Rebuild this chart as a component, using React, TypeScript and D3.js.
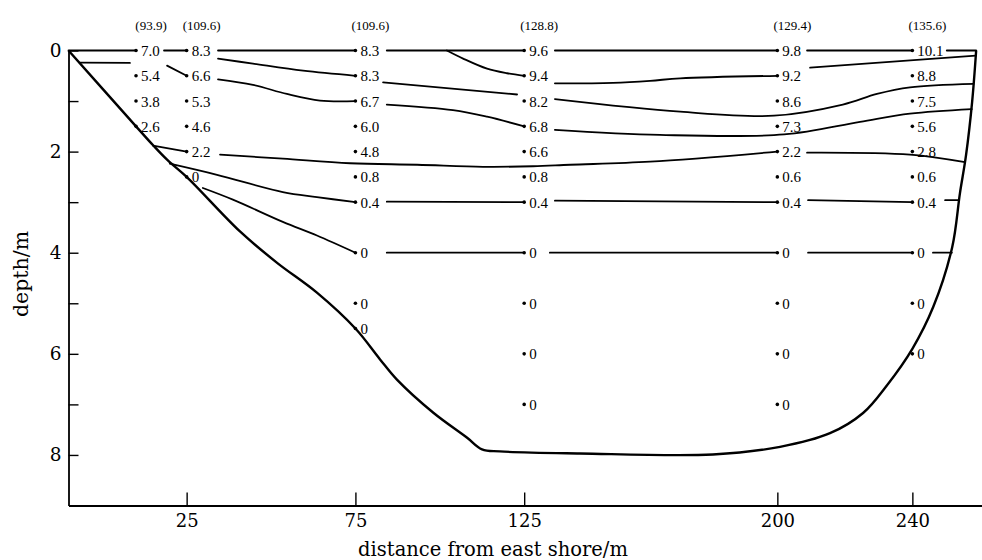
import React, { useEffect, useRef } from "react";
import * as d3 from "d3";

type Pt = [number, number];

// ---- data ----
const stationDistances = [10, 25, 75, 125, 200, 240];
const stationHeaders = ["(93.9)", "(109.6)", "(109.6)", "(128.8)", "(129.4)", "(135.6)"];
const stationDepths = [
  [0, 0.5, 1, 1.5],
  [0, 0.5, 1, 1.5, 2, 2.5],
  [0, 0.5, 1, 1.5, 2, 2.5, 3, 4, 5, 5.5],
  [0, 0.5, 1, 1.5, 2, 2.5, 3, 4, 5, 6, 7],
  [0, 0.5, 1, 1.5, 2, 2.5, 3, 4, 5, 6, 7],
  [0, 0.5, 1, 1.5, 2, 2.5, 3, 4, 5, 6],
];
const stationValues = [
  ["7.0", "5.4", "3.8", "2.6"],
  ["8.3", "6.6", "5.3", "4.6", "2.2", "0"],
  ["8.3", "8.3", "6.7", "6.0", "4.8", "0.8", "0.4", "0", "0", "0"],
  ["9.6", "9.4", "8.2", "6.8", "6.6", "0.8", "0.4", "0", "0", "0", "0"],
  ["9.8", "9.2", "8.6", "7.3", "2.2", "0.6", "0.4", "0", "0", "0", "0"],
  ["10.1", "8.8", "7.5", "5.6", "2.8", "0.6", "0.4", "0", "0", "0"],
];

const lakeBed: Pt[] = [
  [-10, 0], [10, 1.5], [15.0, 1.87], [19.2, 2.16], [25, 2.5], [40.8, 3.58], [51.8, 4.2],
  [63.6, 4.79], [75, 5.5], [82.3, 6.11], [87.3, 6.51], [98, 7.16], [108.1, 7.66],
  [112.5, 7.89], [117.8, 7.93], [141.5, 7.97], [180.9, 7.99], [200.8, 7.84], [215.6, 7.57],
  [225.4, 7.17], [232.5, 6.62], [240, 5.9], [246.2, 5.07], [251.8, 3.89], [254.1, 2.82],
  [255.9, 2.07], [257.7, 1.02], [258.9, 0],
];

const surfaceLine: Pt[][] = [
  [[-10, 0], [10, 0]],
  [[18.3, 0], [25, 0]],
  [[34.3, 0], [75, 0]],
  [[84.3, 0], [125, 0]],
  [[134.1, 0], [200, 0]],
  [[208.8, 0], [240, 0]],
  [[250.2, 0], [258.9, 0]],
];

const iso94: Pt[][] = [
  [[102.1, 0], [106.9, 0.16], [114, 0.36], [119.9, 0.45], [125, 0.5]],
  [[134.1, 0.65], [151.3, 0.64], [162.3, 0.6], [171.2, 0.55], [200, 0.5]],
  [[209.7, 0.34], [258.8, 0.1]],
];

const iso83: Pt[][] = [
  [[34.3, 0.16], [44.65, 0.26], [59.5, 0.4], [75, 0.5]],
  [[83.2, 0.63], [122.9, 0.87]],
  [[134.1, 0.96], [171.2, 1.21], [199, 1.29], [219.4, 1.07], [229.5, 0.86], [239.3, 0.73], [258.1, 0.66]],
];

const iso67: Pt[][] = [
  [[-6.7, 0.24], [8.2, 0.245]],
  [[19.2, 0.3], [25, 0.5]],
  [[34.3, 0.57], [44.65, 0.68], [54.7, 0.86], [64.5, 0.99], [75, 1.0]],
  [[84.3, 1.07], [103.9, 1.18], [114, 1.31], [125, 1.5]],
  [[134.1, 1.57], [165.2, 1.67], [202, 1.66], [224.5, 1.41], [239.3, 1.25], [257.6, 1.16]],
];

const iso22: Pt[][] = [
  [[15.0, 1.88], [25, 2.0]],
  [[34.9, 2.06], [53.5, 2.14], [73.4, 2.23], [93.3, 2.26], [112.8, 2.3], [127.6, 2.29], [138.6, 2.26], [162.3, 2.2], [200, 2.0]],
  [[208.8, 2.02], [239.3, 2.06], [255.6, 2.21]],
];

const iso04: Pt[][] = [
  [[20, 2.24], [34, 2.46], [53.5, 2.8], [63.6, 2.9], [75, 3.0]],
  [[84.3, 2.99], [125, 3.0]],
  [[134.1, 2.97], [200, 3.0]],
  [[209.1, 2.96], [240, 3.0]],
  [[249.7, 2.96], [253.5, 2.96]],
];

const iso0: Pt[][] = [
  [[29.8, 2.72], [38.7, 2.95], [53.5, 3.39], [63.6, 3.66], [75, 4.0]],
  [[84.3, 4.0], [125, 4.0]],
  [[132.6, 4.0], [200, 4.0]],
  [[209.1, 4.0], [240, 4.0]],
  [[246.1, 4.0], [251.7, 4.0]],
];

const xTicks = [25, 75, 125, 200, 240];
const yTicks = [0, 1, 2, 3, 4, 5, 6, 7, 8];
const xTitle = "distance from east shore/m";
const yTitle = "depth/m";

// ---- chart ----
const W = 982;
const H = 560;

export default function App() {
  const x = d3.scaleLinear().domain([-10, 260.6]).range([68.5, 981.9]);
  const y = d3.scaleLinear().domain([0, 9]).range([50.5, 505.5]);

  const smooth = d3
    .line<Pt>()
    .x((d) => x(d[0]))
    .y((d) => y(d[1]))
    .curve(d3.curveCatmullRom.alpha(0.5));

  const xAxisRef = useRef<SVGGElement>(null);
  const yAxisRef = useRef<SVGGElement>(null);

  useEffect(() => {
    const gx = d3.select(xAxisRef.current as SVGGElement);
    gx.call(
      d3
        .axisBottom(x)
        .tickValues(xTicks)
        .tickSize(-13)
        .tickSizeOuter(0)
        .tickPadding(9)
        .tickFormat((d) => String(d))
    );
    gx.attr("font-family", "DejaVu Serif").attr("font-size", 18);
    gx.select(".domain").attr("stroke-width", 1.8);
    gx.selectAll(".tick line").attr("stroke-width", 1.4);

    const gy = d3.select(yAxisRef.current as SVGGElement);
    gy.call(
      d3
        .axisLeft(y)
        .tickValues(yTicks)
        .tickSize(-10)
        .tickSizeOuter(0)
        .tickPadding(7)
        .tickFormat((d) => ((d as number) % 2 === 0 ? String(d) : ""))
    );
    gy.attr("font-family", "DejaVu Serif").attr("font-size", 18.5);
    gy.select(".domain").attr("stroke-width", 1.8);
    gy.selectAll(".tick line").attr("stroke-width", 1.4);
  }, []);

  const isoGroups = [surfaceLine, iso94, iso83, iso67, iso22, iso04, iso0];

  return (
    <svg
      width={W}
      height={H}
      style={{ position: "absolute", left: 0, top: 0, background: "#fff" }}
    >
      <rect x={0} y={0} width={W} height={H} fill="#fff" />
      <g ref={yAxisRef} transform={`translate(${x(-10)},0)`} />
      <g ref={xAxisRef} transform={`translate(0,${y(9)})`} />

      {isoGroups.map((group, gi) =>
        group.map((seg, si) => (
          <path
            key={`iso-${gi}-${si}`}
            d={smooth(seg) || ""}
            fill="none"
            stroke="#000"
            strokeWidth={1.8}
            strokeLinecap="round"
          />
        ))
      )}

      <path d={smooth(lakeBed) || ""} fill="none" stroke="#000" strokeWidth={2.4} strokeLinejoin="round" />

      {stationDistances.map((dist, i) => (
        <g key={`st-${i}`}>
          <text
            x={x(dist) + 15}
            y={30}
            textAnchor="middle"
            fontFamily="Liberation Serif"
            fontSize={13}
            fill="#000"
          >
            {stationHeaders[i]}
          </text>
          {stationDepths[i].map((dep, j) => (
            <g key={`pt-${i}-${j}`}>
              <circle cx={x(dist)} cy={y(dep)} r={1.8} fill="#000" />
              <text
                x={x(dist) + 5}
                y={y(dep) + 5.5}
                fontFamily="Liberation Serif"
                fontSize={15}
                fill="#000"
              >
                {stationValues[i][j]}
              </text>
            </g>
          ))}
        </g>
      ))}

      <text x={493} y={556} textAnchor="middle" fontFamily="DejaVu Serif" fontSize={19.5} fill="#000">
        {xTitle}
      </text>
      <text
        transform={`translate(28,274) rotate(-90)`}
        textAnchor="middle"
        fontFamily="DejaVu Serif"
        fontSize={20.5}
        fill="#000"
      >
        {yTitle}
      </text>
    </svg>
  );
}
